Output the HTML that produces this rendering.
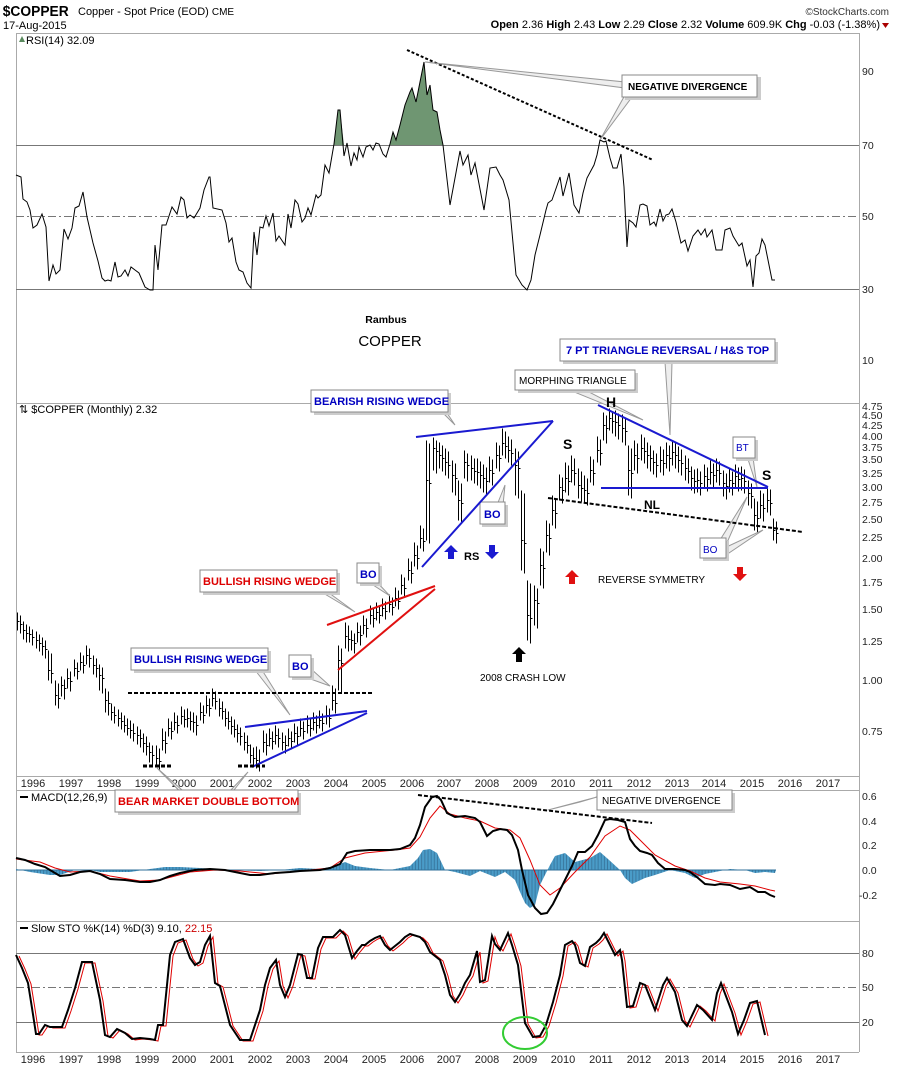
<!DOCTYPE html>
<html><head><meta charset="utf-8"><style>
html,body{margin:0;padding:0;background:#fff;}
svg{display:block;font-family:"Liberation Sans",sans-serif;}
</style></head><body>
<svg width="900" height="1069" viewBox="0 0 900 1069" xmlns="http://www.w3.org/2000/svg">
<defs>
<pattern id="hs" x="0" y="0" width="3.15" height="10" patternUnits="userSpaceOnUse">
<rect x="0" y="0" width="2.3" height="10" fill="#4a9cc8"/>
<rect x="2.3" y="0" width="0.85" height="10" fill="#2f6f98"/>
</pattern>
</defs>
<rect width="900" height="1069" fill="#fff"/>
<text x="3" y="16" font-size="15" font-weight="bold" transform="scale(0.92,1)">$COPPER</text>
<text x="78" y="15" font-size="11">Copper - Spot Price (EOD) <tspan font-size="10">CME</tspan></text>
<text x="3" y="29" font-size="11">17-Aug-2015</text>
<text x="889" y="15" font-size="10" text-anchor="end" fill="#333">©StockCharts.com</text>
<text x="880" y="28" font-size="11" text-anchor="end"><tspan font-weight="bold">Open</tspan> 2.36 <tspan font-weight="bold">High</tspan> 2.43 <tspan font-weight="bold">Low</tspan> 2.29 <tspan font-weight="bold">Close</tspan> 2.32 <tspan font-weight="bold">Volume</tspan> 609.9K <tspan font-weight="bold">Chg</tspan> -0.03 (-1.38%)</text>
<path d="M882 23 L889 23 L885.5 28 Z" fill="#a00"/>
<g stroke="#aaa" fill="none" stroke-width="1">
<line x1="16" y1="33.5" x2="859" y2="33.5"/>
<line x1="16.5" y1="33" x2="16.5" y2="1052"/>
<line x1="859.5" y1="33" x2="859.5" y2="1052"/>
<line x1="16" y1="403.5" x2="859" y2="403.5"/>
<line x1="16" y1="776.5" x2="859" y2="776.5"/>
<line x1="16" y1="790.5" x2="859" y2="790.5"/>
<line x1="16" y1="921.5" x2="859" y2="921.5"/>
<line x1="16" y1="1052.5" x2="859" y2="1052.5"/>
</g>
<g stroke="#777" stroke-width="1">
<line x1="16" y1="145.5" x2="859" y2="145.5"/>
<line x1="16" y1="289.5" x2="859" y2="289.5"/>
<line x1="16" y1="216.5" x2="859" y2="216.5" stroke-dasharray="8,3,2,3"/>
<line x1="16" y1="953.5" x2="859" y2="953.5"/>
<line x1="16" y1="1022.5" x2="859" y2="1022.5"/>
<line x1="16" y1="987.5" x2="859" y2="987.5" stroke-dasharray="8,3,2,3"/>
</g>
<!-- RSI -->
<path d="M334,145 L338,110 L340,110 L344,145 Z M390,145 L393,132 L396,140 L400,125 L405,105 L410,92 L412,88 L416,102 L420,82 L424,62 L427,95 L430,85 L433,110 L437,112 L440,130 L443,145 Z" fill="#6f9672"/>
<path fill="none" stroke="#000" stroke-width="1" d="M16,175 L21,177 L23,199 L27,202 L30,210 L33,228 L37,225 L42,214 L46,227 L49,281 L53,265 L56,274 L60,270 L64,229 L68,239 L72,228 L75,208 L79,206 L83,192 L87,217 L90,230 L93,243 L98,261 L102,278 L105,281 L108,280 L111,281 L115,262 L118,277 L121,276 L125,270 L128,276 L131,267 L135,270 L139,273 L145,287 L150,290 L153,290 L155,245 L158,270 L162,225 L166,225 L172,207 L177,214 L181,197 L184,200 L187,218 L190,215 L194,218 L200,208 L204,190 L209,177 L210,177 L213,208 L222,210 L226,223 L229,242 L232,238 L236,262 L239,270 L243,272 L247,283 L251,288 L254,232 L257,255 L260,227 L263,228 L266,216 L269,226 L273,213 L276,241 L279,236 L285,245 L288,214 L291,228 L295,200 L298,204 L302,222 L305,218 L308,208 L311,215 L316,195 L318,198 L321,195 L325,165 L329,173 L334,144 L338,110 L340,110 L344,156 L347,143 L351,166 L354,153 L357,160 L359,147 L363,157 L366,147 L370,145 L373,150 L376,143 L379,144 L383,154 L386,157 L390,144 L393,132 L396,140 L400,125 L405,105 L410,92 L412,88 L416,102 L420,82 L424,62 L427,95 L430,85 L433,110 L437,112 L440,130 L443,145 L450,205 L460,151 L463,165 L468,155 L471,175 L475,163 L484,210 L490,168 L496,167 L500,175 L503,180 L509,200 L516,275 L522,285 L527,290 L531,280 L535,255 L540,235 L546,210 L548,203 L552,200 L560,177 L563,196 L569,173 L574,205 L579,213 L583,193 L587,178 L594,165 L597,155 L600,140 L604,142 L606,141 L610,158 L613,168 L617,168 L621,154 L624,187 L627,247 L629,220 L633,223 L636,227 L640,205 L643,204 L647,206 L650,225 L654,222 L656,226 L660,209 L663,221 L666,215 L669,214 L672,209 L676,222 L681,243 L685,240 L688,251 L693,236 L698,230 L701,235 L705,229 L707,237 L712,230 L716,250 L722,250 L725,230 L730,228 L733,236 L739,246 L742,243 L747,266 L750,260 L753,287 L756,256 L759,253 L762,239 L765,245 L768,260 L772,280 L775,280"/>
<!-- price bars -->
<g stroke="#000" stroke-width="1" fill="none" shape-rendering="crispEdges">
<path id="pb" transform="translate(0.5,0.5)" d="M17 612V630M17 621H19M23 621V639M23 630H25M29 626V642M29 634H31M36 631V648M36 640H38M42 637V655M42 646H44M48 650V680M48 670H50M55 680V705M55 695H57M61 676V696M61 685H63M67 668V688M67 678H69M74 659V676M74 668H76M80 652V670M80 662H82M86 645V664M86 655H88M93 655V674M93 665H95M99 664V690M99 675H101M105 688V712M105 700H107M111 703V720M111 712H113M118 709V726M118 718H120M124 715V732M124 725H126M130 720V738M130 730H132M137 726V744M137 735H139M143 733V752M143 743H145M149 742V762M149 752H151M156 745V766M156 758H158M162 728V750M162 740H164M168 718V736M168 728H170M174 712V730M174 722H176M181 706V724M181 716H183M187 708V727M187 718H189M193 712V732M193 722H195M200 702V720M200 712H202M206 695V713M206 705H208M212 688V706M212 698H214M219 698V716M219 708H221M225 708V726M225 718H227M231 716V734M231 726H233M237 724V742M237 733H239M244 732V750M244 742H246M250 744V763M250 755H252M256 746V768M256 760H258M263 730V752M263 742H265M269 728V746M269 738H271M275 725V744M275 735H277M282 732V750M282 742H284M288 728V746M288 738H290M294 723V742M294 733H296M300 718V736M300 728H302M307 715V733M307 725H309M313 712V730M313 722H315M319 710V728M319 720H321M326 705V724M326 715H328M332 685V710M332 700H334M338 645V690M338 660H340M345 622V648M345 636H347M351 630V650M351 640H353M357 622V642M357 632H359M363 615V634M363 625H365M370 605V624M370 615H372M376 602V620M376 612H378M382 598V616M382 608H384M389 594V612M389 604H391M395 587V606M395 598H397M401 574V594M401 585H403M408 558V580M408 570H410M414 542V566M414 555H416M420 525V548M420 538H422M426 440V540M426 480H428M433 437V470M433 448H435M439 442V468M439 455H441M445 448V475M445 462H447M452 460V492M452 475H454M458 480V520M458 500H460M464 450V478M464 462H466M471 455V480M471 468H473M477 458V485M477 472H479M483 464V492M483 478H485M489 456V482M489 470H491M496 442V468M496 455H498M502 428V455M502 443H504M508 436V462M508 450H510M515 448V495M515 465H517M521 490V570M521 540H523M527 580V640M527 615H529M534 585V625M534 600H536M540 548V585M540 565H542M546 520V552M546 535H548M552 495V525M552 510H554M559 474V500M559 487H561M565 462V492M565 478H567M571 455V482M571 470H573M578 468V498M578 485H580M584 475V502M584 490H586M590 456V482M590 470H592M597 436V462M597 450H599M603 412V440M603 425H605M609 408V430M609 418H611M615 410V436M615 422H617M622 414V442M622 428H624M628 445V495M628 470H630M634 440V470M634 455H636M641 434V460M641 448H643M647 442V468M647 455H649M653 450V474M653 462H655M660 446V472M660 460H662M666 442V468M666 455H668M672 440V465M672 452H674M678 446V472M678 460H680M685 455V480M685 468H687M691 466V490M691 478H693M697 468V492M697 480H699M704 464V488M704 476H706M710 460V484M710 472H712M716 458V482M716 470H718M723 470V496M723 483H725M729 468V492M729 480H731M735 464V488M735 476H737M741 466V490M741 478H743M748 480V505M748 493H750M754 498V530M754 515H756M760 490V518M760 505H762M767 486V512M767 500H769M773 518V540M773 530H775"/>
<use href="#pb" transform="translate(3,3)"/>
</g>
<!-- MACD -->
<path fill="url(#hs)" d="M16,870 L16,869 L30,872 L50,875 L60,875 L75,870 L90,870 L100,872 L130,872 L150,869 L165,867 L180,867 L200,868 L230,870 L260,871 L280,870 L300,868 L320,869 L335,866 L345,862 L355,866 L370,868 L390,870 L400,868 L410,866 L418,858 L423,850 L430,849 L437,853 L445,870 L455,872 L470,876 L480,871 L495,877 L505,872 L515,880 L520,892 L525,903 L530,908 L535,905 L540,885 L545,875 L550,865 L555,856 L565,853 L575,862 L590,858 L600,852 L608,859 L620,870 L625,878 L632,884 L645,878 L655,875 L670,870 L685,873 L695,878 L705,874 L730,869 L745,870 L755,873 L765,872 L775,873 L776,870 Z"/>
<line x1="16" y1="870" x2="776" y2="870" stroke="#2f6f98" stroke-width="1"/>
<path fill="none" stroke="#e00000" stroke-width="1" d="M16,859 L40,862 L55,868 L70,872 L90,871 L110,876 L140,881 L160,880 L190,872 L215,870 L240,871 L270,874 L300,871 L330,868 L345,858 L365,853 L395,850 L410,848 L420,837 L430,818 L440,806 L450,814 L465,818 L480,821 L495,828 L510,830 L520,838 L530,860 L540,885 L550,895 L560,888 L575,872 L590,857 L605,836 L620,826 L630,830 L640,840 L655,855 L675,866 L690,871 L705,878 L720,882 L740,884 L755,886 L770,890 L775,891"/>
<path fill="none" stroke="#000" stroke-width="2" d="M16,858 L25,860 L35,864 L45,867 L55,873 L60,876 L70,875 L80,872 L90,871 L100,874 L110,879 L125,880 L140,882 L150,882 L160,880 L170,876 L180,873 L195,870 L210,869 L225,870 L240,873 L250,875 L260,875 L275,873 L290,872 L300,871 L320,870 L330,868 L340,864 L347,853 L355,851 L370,850 L390,850 L400,849 L410,845 L415,838 L420,825 L425,807 L432,797 L437,796 L441,800 L447,813 L455,817 L465,816 L475,818 L480,822 L487,836 L493,831 L500,829 L507,830 L512,835 L518,850 L522,870 L528,895 L535,908 L541,914 L547,913 L553,904 L560,890 L567,876 L572,866 L578,852 L585,852 L592,846 L598,835 L605,820 L610,819 L618,820 L625,822 L630,839 L635,846 L640,851 L647,853 L652,855 L658,863 L665,869 L675,869 L685,870 L690,872 L698,878 L705,884 L715,885 L720,884 L730,885 L740,889 L750,887 L758,892 L765,892 L770,895 L775,897"/>
<!-- STO -->
<path id="sto" fill="none" d="M16,955 L22,968 L28,983 L32,1008 L36,1034 L39,1034 L45,1025 L50,1027 L55,1027 L62,1027 L68,1010 L75,988 L82,962 L88,962 L92,962 L100,1000 L105,1035 L110,1037 L117,1029 L125,1033 L132,1039 L140,1038 L150,1039 L155,1040 L158,1025 L163,1025 L170,955 L175,942 L183,939 L190,958 L195,965 L200,962 L205,945 L210,936 L215,983 L220,986 L230,1025 L240,1040 L250,1040 L255,1025 L260,1010 L265,985 L270,968 L276,960 L280,985 L285,997 L290,985 L298,954 L302,955 L307,978 L312,978 L318,948 L323,937 L333,937 L340,930 L345,935 L352,958 L357,951 L362,945 L365,945 L370,941 L375,938 L380,936 L385,945 L390,950 L395,946 L400,942 L405,937 L410,934 L420,937 L425,942 L430,952 L440,960 L445,975 L450,995 L455,1002 L460,994 L465,983 L470,975 L477,951 L480,982 L485,980 L492,936 L495,944 L500,950 L508,933 L512,945 L518,965 L525,1023 L533,1037 L540,1036 L546,1025 L553,1002 L560,975 L565,945 L572,941 L575,945 L580,963 L585,966 L590,947 L596,943 L600,939 L604,933 L615,955 L620,950 L622,960 L627,1007 L633,1006 L640,983 L645,985 L655,1010 L663,985 L667,978 L675,992 L682,1020 L687,1026 L697,1005 L703,1010 L712,1020 L717,993 L721,983 L732,1012 L738,1034 L744,1020 L750,1003 L757,1001 L765,1035"/>
<use href="#sto" transform="translate(3,1)" stroke="#e00000" stroke-width="1"/>
<use href="#sto" stroke="#000" stroke-width="2"/>
<!-- labels -->
<path d="M19 42 L22 36 L25 42 Z" fill="#5a8a5e"/>
<text x="26" y="44" font-size="11">RSI(14) 32.09</text>
<text x="19" y="413" font-size="11">⇅ $COPPER (Monthly) 2.32</text>
<line x1="20" y1="797" x2="28" y2="797" stroke="#000" stroke-width="2"/>
<text x="31" y="801" font-size="11">MACD(12,26,9)</text>
<line x1="20" y1="928" x2="28" y2="928" stroke="#000" stroke-width="2"/>
<text x="31" y="932" font-size="11">Slow STO %K(14) %D(3) 9.10, <tspan fill="#c00">22.15</tspan></text>
<g font-size="10.5" fill="#222">
<text x="862" y="75">90</text><text x="862" y="149">70</text><text x="862" y="220">50</text><text x="862" y="293">30</text><text x="862" y="364">10</text>
<text x="862" y="410">4.75</text><text x="862" y="419">4.50</text><text x="862" y="429">4.25</text><text x="862" y="440">4.00</text><text x="862" y="451">3.75</text><text x="862" y="463">3.50</text><text x="862" y="477">3.25</text><text x="862" y="491">3.00</text><text x="862" y="506">2.75</text><text x="862" y="523">2.50</text><text x="862" y="541">2.25</text><text x="862" y="562">2.00</text><text x="862" y="586">1.75</text><text x="862" y="613">1.50</text><text x="862" y="645">1.25</text><text x="862" y="684">1.00</text><text x="862" y="735">0.75</text>
<text x="862" y="800">0.6</text><text x="862" y="825">0.4</text><text x="862" y="849">0.2</text><text x="862" y="874">0.0</text><text x="859" y="899">-0.2</text>
<text x="862" y="957">80</text><text x="862" y="991">50</text><text x="862" y="1026">20</text>
</g>
<g font-size="11" fill="#222" text-anchor="middle">
<text x="33" y="787">1996</text><text x="71" y="787">1997</text><text x="109" y="787">1998</text><text x="147" y="787">1999</text><text x="184" y="787">2000</text><text x="222" y="787">2001</text><text x="260" y="787">2002</text><text x="298" y="787">2003</text><text x="336" y="787">2004</text><text x="374" y="787">2005</text><text x="412" y="787">2006</text><text x="449" y="787">2007</text><text x="487" y="787">2008</text><text x="525" y="787">2009</text><text x="563" y="787">2010</text><text x="601" y="787">2011</text><text x="639" y="787">2012</text><text x="677" y="787">2013</text><text x="714" y="787">2014</text><text x="752" y="787">2015</text><text x="790" y="787">2016</text><text x="828" y="787">2017</text>
<text x="33" y="1063">1996</text><text x="71" y="1063">1997</text><text x="109" y="1063">1998</text><text x="147" y="1063">1999</text><text x="184" y="1063">2000</text><text x="222" y="1063">2001</text><text x="260" y="1063">2002</text><text x="298" y="1063">2003</text><text x="336" y="1063">2004</text><text x="374" y="1063">2005</text><text x="412" y="1063">2006</text><text x="449" y="1063">2007</text><text x="487" y="1063">2008</text><text x="525" y="1063">2009</text><text x="563" y="1063">2010</text><text x="601" y="1063">2011</text><text x="639" y="1063">2012</text><text x="677" y="1063">2013</text><text x="714" y="1063">2014</text><text x="752" y="1063">2015</text><text x="790" y="1063">2016</text><text x="828" y="1063">2017</text>
</g>
<!-- RSI annotations -->
<line x1="407" y1="50" x2="653" y2="160" stroke="#000" stroke-width="2" stroke-dasharray="3,2"/>
<path d="M425 62 L625 82 L625 88 Z M600 140 L625 95 L632 97 Z" fill="#eee" stroke="#999"/>
<rect x="625" y="77" width="136" height="23" fill="#ccc"/>
<rect x="622" y="75" width="135" height="22" fill="#fff" stroke="#888"/>
<text x="628" y="90" font-size="10" font-weight="bold">NEGATIVE DIVERGENCE</text>
<text x="386" y="323" font-size="10.5" font-weight="bold" text-anchor="middle">Rambus</text>
<text x="390" y="346" font-size="15" text-anchor="middle">COPPER</text>
<g stroke="#999" fill="#eee">
<path d="M440 410 L455 425 L445 410 Z"/>
<path d="M540 378 L562 378 L643 420 Z"/>
<path d="M665 362 L672 362 L670 435 Z"/>
<path d="M497 505 L505 485 L503 505 Z"/>
<path d="M370 583 L390 596 L375 580 Z"/>
<path d="M318 590 L355 612 L325 590 Z"/>
<path d="M310 668 L330 686 L305 677 Z"/>
<path d="M255 670 L290 715 L262 670 Z"/>
<path d="M745 450 L757 487 L752 450 Z"/>
<path d="M720 540 L747 497 L726 545 Z M720 550 L763 530 L726 555 Z"/>
<path d="M200 812 L157 768 L207 812 Z M210 812 L248 772 L217 812 Z"/>
<path d="M580 802 L548 810 L597 797 Z"/>
</g>
<g font-size="11" font-weight="bold">
<rect x="314" y="393" width="137" height="22" fill="#ccc"/><rect x="311" y="390" width="137" height="22" fill="#fff" stroke="#888"/><text x="314" y="405" fill="#0000c0">BEARISH RISING WEDGE</text>
<rect x="563" y="342" width="215" height="22" fill="#ccc"/><rect x="560" y="339" width="215" height="22" fill="#fff" stroke="#888"/><text x="566" y="354" fill="#0000c0">7 PT TRIANGLE REVERSAL / H&amp;S TOP</text>
<rect x="518" y="373" width="120" height="20" fill="#ccc"/><rect x="515" y="370" width="120" height="20" fill="#fff" stroke="#888"/><text x="519" y="384" font-weight="normal" font-size="10">MORPHING TRIANGLE</text>
<rect x="482" y="505" width="26" height="22" fill="#ccc"/><rect x="480" y="502" width="25" height="22" fill="#fff" stroke="#888"/><text x="484" y="518" fill="#0000c0">BO</text>
<rect x="736" y="440" width="22" height="21" fill="#ccc"/><rect x="733" y="437" width="22" height="21" fill="#fff" stroke="#888"/><text x="736" y="451" fill="#0000c0" font-weight="normal" font-size="10">BT</text>
<rect x="703" y="541" width="26" height="20" fill="#ccc"/><rect x="700" y="538" width="26" height="20" fill="#fff" stroke="#888"/><text x="703" y="553" fill="#0000c0" font-weight="normal" font-size="10">BO</text>
<rect x="360" y="566" width="22" height="20" fill="#ccc"/><rect x="357" y="563" width="22" height="20" fill="#fff" stroke="#888"/><text x="360" y="578" fill="#0000c0">BO</text>
<rect x="203" y="573" width="137" height="22" fill="#ccc"/><rect x="200" y="570" width="137" height="22" fill="#fff" stroke="#888"/><text x="203" y="585" fill="#d00">BULLISH RISING WEDGE</text>
<rect x="292" y="658" width="22" height="22" fill="#ccc"/><rect x="289" y="655" width="22" height="22" fill="#fff" stroke="#888"/><text x="292" y="670" fill="#0000c0">BO</text>
<rect x="134" y="651" width="137" height="22" fill="#ccc"/><rect x="131" y="648" width="137" height="22" fill="#fff" stroke="#888"/><text x="134" y="663" fill="#0000c0">BULLISH RISING WEDGE</text>
<rect x="118" y="793" width="183" height="22" fill="#ccc"/><rect x="115" y="790" width="183" height="22" fill="#fff" stroke="#888"/><text x="118" y="805" fill="#d00">BEAR MARKET DOUBLE BOTTOM</text>
<rect x="600" y="793" width="135" height="20" fill="#ccc"/><rect x="597" y="790" width="135" height="20" fill="#fff" stroke="#888"/><text x="602" y="804" font-weight="normal" font-size="10">NEGATIVE DIVERGENCE</text>
<text x="563" y="449" font-size="14">S</text><text x="606" y="407" font-size="14">H</text><text x="762" y="480" font-size="14">S</text>
<text x="644" y="509" font-size="12">NL</text>
<text x="464" y="560" font-size="11">RS</text>
</g>
<text x="598" y="583" font-size="10">REVERSE SYMMETRY</text>
<text x="480" y="681" font-size="10">2008 CRASH LOW</text>
<g stroke-width="2" fill="none">
<line x1="416" y1="437" x2="553" y2="421" stroke="#1a1ad0"/>
<line x1="422" y1="567" x2="553" y2="421" stroke="#1a1ad0"/>
<line x1="598" y1="405" x2="768" y2="487" stroke="#1a1ad0"/>
<line x1="601" y1="488" x2="768" y2="488" stroke="#1a1ad0"/>
<line x1="327" y1="625" x2="435" y2="586" stroke="#e01010"/>
<line x1="338" y1="670" x2="435" y2="589" stroke="#e01010"/>
<line x1="245" y1="727" x2="367" y2="711" stroke="#1a1ad0"/>
<line x1="252" y1="767" x2="367" y2="713" stroke="#1a1ad0"/>
<line x1="548" y1="498" x2="803" y2="532" stroke="#000" stroke-dasharray="4,2"/>
<line x1="128" y1="693" x2="372" y2="693" stroke="#000" stroke-dasharray="4,2"/>
<line x1="143" y1="766" x2="171" y2="766" stroke="#000" stroke-width="3" stroke-dasharray="4,2"/>
<line x1="238" y1="766" x2="265" y2="766" stroke="#000" stroke-width="3" stroke-dasharray="4,2"/>
<line x1="418" y1="795" x2="652" y2="823" stroke="#000" stroke-dasharray="4,2"/>
<ellipse cx="525" cy="1033" rx="22" ry="16" stroke="#33cc33"/>
</g>
<path d="M451 545 L458 552 L454 552 L454 559 L448 559 L448 552 L444 552 Z" fill="#1a1ad0"/>
<path d="M492 559 L499 552 L495 552 L495 545 L489 545 L489 552 L485 552 Z" fill="#1a1ad0"/>
<path d="M572 570 L579 577 L575 577 L575 584 L569 584 L569 577 L565 577 Z" fill="#e01010"/>
<path d="M740 581 L747 574 L743 574 L743 567 L737 567 L737 574 L733 574 Z" fill="#e01010"/>
<path d="M519 647 L526 654 L522 654 L522 662 L516 662 L516 654 L512 654 Z" fill="#000"/>
</svg>
</body></html>
